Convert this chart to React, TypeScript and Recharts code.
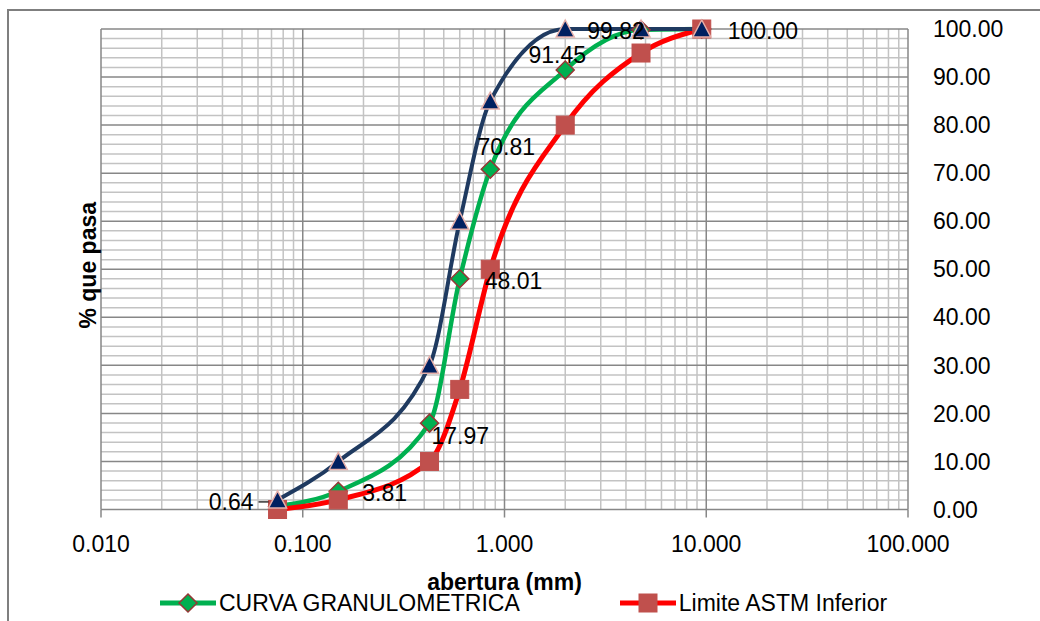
import React from 'react';
import { LineChart, Line, XAxis, YAxis, ReferenceLine, LabelList, Legend, Label } from 'recharts';

// ---- data ----
const sieveOpenings = [0.075, 0.15, 0.425, 0.6, 0.85, 2.0, 4.75, 9.5];
const curvaGranulometrica = [0.64, 3.81, 17.97, 48.01, 70.81, 91.45, 99.82, 100.0];
const limiteInferior = [0, 2, 10, 25, 50, 80, 95, 100];
const limiteSuperior = [2, 10, 30, 60, 85, 100, 100, 100];
const xTicks = [0.01, 0.1, 1, 10, 100];
const yTicks = [0, 10, 20, 30, 40, 50, 60, 70, 80, 90, 100];
const seriesNames = ['CURVA GRANULOMETRICA', 'Limite ASTM Inferior', 'Limite ASTM Superior'];

const data = sieveOpenings.map((x, i) => ({
  x,
  curva: curvaGranulometrica[i],
  inferior: limiteInferior[i],
  superior: limiteSuperior[i],
}));

// gridline values (log minor ticks per decade, every 2 % minor)
const xMinor: number[] = [];
[0.01, 0.1, 1, 10].forEach((d) => {
  for (let m = 2; m <= 9; m++) xMinor.push(+(d * m).toPrecision(6));
});
const yMinor: number[] = [];
for (let v = 2; v < 100; v += 2) if (v % 10 !== 0) yMinor.push(v);

// ---- style ----
const FONT = '"Liberation Sans", Arial, sans-serif';
const FS = 23;
const MAJOR = '#878787';
const MINOR = '#c3c3c3';
const GREEN = '#00B050';
const RED = '#FF0000';
const NAVY = '#1F3A60';

const labelPlacement = [
  { dx: -24, dy: -4, anchor: 'end', leader: true },
  { dx: 24, dy: 2, anchor: 'start' },
  { dx: 2, dy: 13, anchor: 'start' },
  { dx: 25, dy: 2, anchor: 'start' },
  { dx: 16, dy: -22, anchor: 'middle' },
  { dx: -8, dy: -15, anchor: 'middle' },
  { dx: -25, dy: 1, anchor: 'middle' },
  { dx: 26, dy: 2, anchor: 'start' },
];

const Diamond = ({ cx, cy }: any) =>
  cx == null ? null : (
    <polygon
      points={`${cx},${cy - 9} ${cx + 9},${cy} ${cx},${cy + 9} ${cx - 9},${cy}`}
      fill={GREEN}
      stroke="#953735"
      strokeWidth={1.5}
    />
  );
const Square = ({ cx, cy }: any) =>
  cx == null ? null : <rect x={cx - 9} y={cy - 9} width={18} height={18} fill="#C0504D" stroke="#C0504D" strokeWidth={1} />;
const Triangle = ({ cx, cy }: any) =>
  cx == null ? null : (
    <polygon
      points={`${cx},${cy - 9} ${cx + 9},${cy + 8} ${cx - 9},${cy + 8}`}
      fill="#002060"
      stroke="#E6B0AA"
      strokeWidth={1.5}
    />
  );

const renderCurvaLabel = (props: any) => {
  const { x, y, value, index } = props;
  const p = labelPlacement[index] || { dx: 0, dy: -12, anchor: 'middle' };
  return (
    <g>
      {p.leader ? <line x1={x - 19} y1={y - 4.5} x2={x - 9} y2={y - 4.5} stroke="#000" strokeWidth={1.2} /> : null}
      <text
        x={x + p.dx}
        y={y + p.dy}
        textAnchor={p.anchor}
        dominantBaseline="central"
        fontFamily={FONT}
        fontSize={FS}
        fill="#000"
      >
        {Number(value).toFixed(2)}
      </text>
    </g>
  );
};

const legendIcon = (key: string, color: string) => {
  const cx = 28;
  const cy = 12;
  let marker: any = null;
  if (key === 'curva') marker = <Diamond cx={cx} cy={cy} />;
  else if (key === 'inferior') marker = <Square cx={cx} cy={cy} />;
  else marker = <Triangle cx={cx} cy={cy} />;
  return (
    <svg width={56} height={24} style={{ display: 'block' }}>
      <line x1={0} y1={cy} x2={56} y2={cy} stroke={color} strokeWidth={5} strokeLinecap="round" />
      {marker}
    </svg>
  );
};

const renderLegend = (props: any) => {
  const items = (props.payload || []).filter((e: any) => e.type !== 'none');
  return (
    <div style={{ display: 'flex', alignItems: 'center', paddingLeft: 160, gap: 100, fontFamily: FONT, fontSize: FS, color: '#000' }}>
      {items.map((e: any) => (
        <div key={String(e.dataKey)} style={{ display: 'flex', alignItems: 'center' }}>
          {legendIcon(String(e.dataKey), e.color)}
          <span style={{ marginLeft: 3, whiteSpace: 'nowrap', lineHeight: '26px' }}>{e.value}</span>
        </div>
      ))}
    </div>
  );
};

export default function App() {
  return (
    <div style={{ position: 'fixed', left: 0, top: 0, width: 1040, height: 621, overflow: 'hidden', background: '#fff' }}>
      <div
        style={{
          position: 'absolute',
          left: 7,
          top: 9,
          width: 1100,
          height: 700,
          borderLeft: '2px solid #7f7f7f',
          borderTop: '2px solid #7f7f7f',
        }}
      />
      <div style={{ position: 'absolute', left: 0, top: 0 }}>
        <LineChart width={1040} height={621} data={data} margin={{ top: 29, right: 0, left: 8, bottom: 61.5 }}>
          <XAxis
            dataKey="x"
            type="number"
            scale="log"
            domain={[0.01, 100]}
            allowDataOverflow
            ticks={xTicks}
            interval={0}
            height={50}
            axisLine={false}
            tickLine={{ stroke: MAJOR, strokeWidth: 1.5 }}
            tickSize={8}
            tickMargin={18}
            tick={{ fontFamily: FONT, fontSize: FS, fill: '#000' }}
            tickFormatter={(v: number) => v.toFixed(3)}
          >
            <Label
              content={(p: any) => {
                const vb = p.viewBox || {};
                return (
                  <text
                    x={vb.x + vb.width / 2}
                    y={vb.y + 80}
                    textAnchor="middle"
                    fontFamily={FONT}
                    fontSize={FS}
                    fontWeight="bold"
                    fill="#000"
                  >
                    abertura (mm)
                  </text>
                );
              }}
            />
          </XAxis>
          <YAxis
            yAxisId="lbl"
            orientation="left"
            width={93}
            domain={[0, 100]}
            tick={false}
            axisLine={false}
            tickLine={false}
          >
            <Label
              content={(p: any) => {
                const vb = p.viewBox || {};
                const cx = vb.x + vb.width - 13;
                const cy = vb.y + vb.height / 2 - 4;
                return (
                  <text
                    x={cx}
                    y={cy}
                    transform={`rotate(-90 ${cx} ${cy})`}
                    textAnchor="middle"
                    dominantBaseline="central"
                    fontFamily={FONT}
                    fontSize={FS}
                    fontWeight="bold"
                    fill="#000"
                  >
                    % que pasa
                  </text>
                );
              }}
            />
          </YAxis>
          <YAxis
            yAxisId="pct"
            orientation="right"
            width={132}
            domain={[0, 100]}
            ticks={yTicks}
            interval={0}
            axisLine={false}
            tickLine={false}
            tickSize={0}
            tickMargin={25}
            tick={{ fontFamily: FONT, fontSize: FS, fill: '#000', textAnchor: 'start' }}
            tickFormatter={(v: number) => v.toFixed(2)}
          />
          {yMinor.map((v) => (
            <ReferenceLine key={'ym' + v} yAxisId="pct" y={v} stroke={MINOR} strokeWidth={1.5} zIndex={-100} />
          ))}
          {xMinor.map((v) => (
            <ReferenceLine key={'xm' + v} yAxisId="pct" x={v} stroke={MINOR} strokeWidth={1.5} zIndex={-100} />
          ))}
          {yTicks.map((v) => (
            <ReferenceLine key={'yM' + v} yAxisId="pct" y={v} stroke={MAJOR} strokeWidth={1.5} zIndex={-90} />
          ))}
          {xTicks.map((v) => (
            <ReferenceLine key={'xM' + v} yAxisId="pct" x={v} stroke={MAJOR} strokeWidth={1.5} zIndex={-90} />
          ))}
          <Line
            yAxisId="pct"
            dataKey="curva"
            name={seriesNames[0]}
            type="monotone"
            stroke={GREEN}
            strokeWidth={4.5}
            dot={<Diamond />}
            activeDot={false}
            isAnimationActive={false}
          >
            <LabelList dataKey="curva" content={renderCurvaLabel} />
          </Line>
          <Line
            yAxisId="pct"
            dataKey="inferior"
            name={seriesNames[1]}
            type="monotone"
            stroke={RED}
            strokeWidth={5}
            dot={<Square />}
            activeDot={false}
            isAnimationActive={false}
          />
          <Line
            yAxisId="pct"
            dataKey="superior"
            name={seriesNames[2]}
            type="monotone"
            stroke={NAVY}
            strokeWidth={4}
            dot={<Triangle />}
            activeDot={false}
            legendType="none"
            isAnimationActive={false}
          />
          <Legend
            layout="horizontal"
            verticalAlign="middle"
            align="center"
            wrapperStyle={{ position: 'absolute', left: 0, top: 590, width: 1040, margin: 0, padding: 0 }}
            content={renderLegend}
          />
        </LineChart>
      </div>
    </div>
  );
}
